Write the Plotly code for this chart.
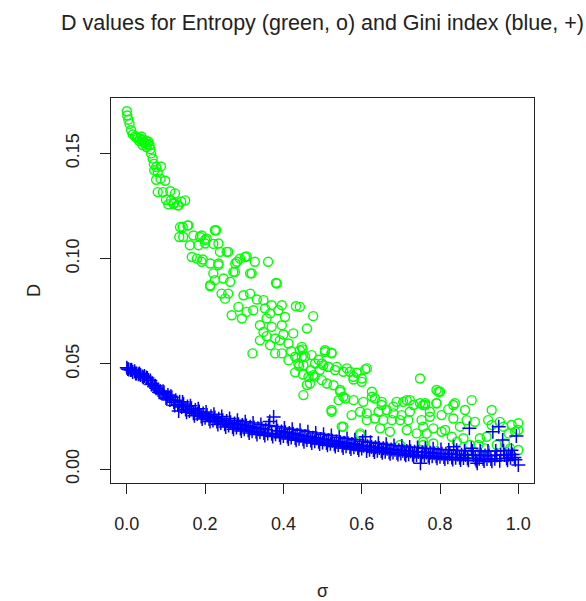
import plotly.graph_objects as go

# Entropy (green, o): sigma and D values
entropy_sigma = [
    0.000, 0.001, 0.004, 0.007, 0.011, 0.015, 0.021, 0.028, 0.034, 0.040, 0.045, 0.049, 0.053, 0.058, 0.040,
    0.060, 0.062, 0.066, 0.069, 0.075, 0.087, 0.070, 0.079, 0.075, 0.086, 0.098, 0.079, 0.092, 0.111, 0.123,
    0.100, 0.113, 0.121, 0.130, 0.139, 0.149, 0.106, 0.025, 0.031, 0.037, 0.043, 0.050, 0.055, 0.119, 0.132,
    0.136, 0.143, 0.155, 0.157, 0.144, 0.134, 0.170, 0.187, 0.204, 0.161, 0.183, 0.200, 0.225, 0.234, 0.255,
    0.166, 0.179, 0.191, 0.213, 0.234, 0.281, 0.302, 0.327, 0.361, 0.276, 0.315, 0.221, 0.247, 0.264, 0.213,
    0.383, 0.228, 0.191, 0.200, 0.221, 0.238, 0.259, 0.194, 0.234, 0.277, 0.289, 0.306, 0.272, 0.319, 0.225,
    0.213, 0.381, 0.242, 0.251, 0.259, 0.298, 0.315, 0.332, 0.349, 0.370, 0.396, 0.432, 0.285, 0.306, 0.268,
    0.294, 0.323, 0.353, 0.366, 0.387, 0.404, 0.476, 0.357, 0.340, 0.370, 0.396, 0.460, 0.349, 0.357, 0.379,
    0.425, 0.340, 0.366, 0.391, 0.413, 0.321, 0.379, 0.396, 0.413, 0.430, 0.447, 0.447, 0.472, 0.506, 0.523,
    0.481, 0.502, 0.515, 0.536, 0.562, 0.438, 0.442, 0.449, 0.451, 0.523, 0.549, 0.596, 0.442, 0.455, 0.451,
    0.464, 0.468, 0.476, 0.493, 0.450, 0.460, 0.470, 0.480, 0.490, 0.440, 0.430, 0.420, 0.400, 0.506, 0.523,
    0.498, 0.515, 0.532, 0.553, 0.570, 0.587, 0.609, 0.579, 0.600, 0.498, 0.511, 0.528, 0.545, 0.558, 0.541,
    0.579, 0.604, 0.626, 0.634, 0.651, 0.689, 0.715, 0.732, 0.749, 0.762, 0.749, 0.523, 0.574, 0.596, 0.613,
    0.643, 0.664, 0.681, 0.702, 0.723, 0.774, 0.613, 0.634, 0.655, 0.677, 0.698, 0.719, 0.753, 0.553, 0.647,
    0.672, 0.715, 0.740, 0.596, 0.698, 0.757, 0.791, 0.545, 0.553, 0.579, 0.613, 0.600, 0.626, 0.651, 0.681,
    0.706, 0.723, 0.757, 0.791, 0.834, 0.796, 0.800, 0.881, 0.762, 0.791, 0.838, 0.821, 0.864, 0.932, 0.774,
    0.804, 0.834, 0.868, 0.889, 0.923, 0.953, 0.757, 0.783, 0.813, 0.851, 0.932, 0.962, 0.983, 1.000, 0.766,
    0.804, 0.830, 0.860, 0.902, 0.919, 0.975, 0.992, 0.783, 0.843, 0.877, 0.898, 0.945, 0.966, 1.000, 0.915,
    0.979, 0.885, 1.000, 0.757,
]
entropy_D = [
    0.1700, 0.1680, 0.1660, 0.1640, 0.1610, 0.1590, 0.1580, 0.1570, 0.1570, 0.1565, 0.1550, 0.1560, 0.1546, 0.1540, 0.1540,
    0.1520, 0.1500, 0.1475, 0.1450, 0.1435, 0.1438, 0.1420, 0.1410, 0.1375, 0.1380, 0.1370, 0.1316, 0.1316, 0.1320, 0.1310,
    0.1280, 0.1277, 0.1264, 0.1253, 0.1270, 0.1277, 0.1258, 0.1575, 0.1560, 0.1580, 0.1555, 0.1530, 0.1555, 0.1260, 0.1253,
    0.1150, 0.1150, 0.1158, 0.1158, 0.1103, 0.1103, 0.1110, 0.1103, 0.1095, 0.1064, 0.1064, 0.1072, 0.1135, 0.1072, 0.1032,
    0.1008, 0.1000, 0.0985, 0.0977, 0.0977, 0.0985, 0.1008, 0.0985, 0.0985, 0.0937, 0.0930, 0.0930, 0.0906, 0.0890, 0.0874,
    0.0882, 0.1135, 0.1110, 0.1090, 0.1070, 0.1032, 0.1032, 0.0996, 0.0969, 0.0977, 0.1000, 0.1011, 0.0937, 0.0930, 0.0898,
    0.0869, 0.0885, 0.0834, 0.0810, 0.0834, 0.0826, 0.0834, 0.0806, 0.0803, 0.0779, 0.0779, 0.0774, 0.0771, 0.0747, 0.0731,
    0.0716, 0.0755, 0.0763, 0.0740, 0.0755, 0.0723, 0.0727, 0.0716, 0.0684, 0.0676, 0.0684, 0.0668, 0.0652, 0.0632, 0.0621,
    0.0645, 0.0612, 0.0589, 0.0612, 0.0597, 0.0550, 0.0550, 0.0550, 0.0518, 0.0534, 0.0581, 0.0534, 0.0542, 0.0565, 0.0553,
    0.0502, 0.0494, 0.0486, 0.0486, 0.0479, 0.0502, 0.0771, 0.0569, 0.0352, 0.0273, 0.0202, 0.0170, 0.0565, 0.0534, 0.0494,
    0.0439, 0.0407, 0.0447, 0.0471, 0.0450, 0.0400, 0.0470, 0.0440, 0.0520, 0.0490, 0.0460, 0.0560, 0.0640, 0.0557, 0.0550,
    0.0502, 0.0486, 0.0471, 0.0463, 0.0463, 0.0458, 0.0474, 0.0426, 0.0415, 0.0423, 0.0407, 0.0399, 0.0368, 0.0336, 0.0328,
    0.0328, 0.0320, 0.0368, 0.0336, 0.0320, 0.0320, 0.0328, 0.0305, 0.0313, 0.0305, 0.0431, 0.0281, 0.0257, 0.0273, 0.0265,
    0.0273, 0.0281, 0.0265, 0.0257, 0.0273, 0.0273, 0.0233, 0.0241, 0.0233, 0.0233, 0.0233, 0.0233, 0.0233, 0.0202, 0.0194,
    0.0178, 0.0186, 0.0170, 0.0162, 0.0115, 0.0115, 0.0376, 0.0376, 0.0344, 0.0439, 0.0479, 0.0431, 0.0344, 0.0305, 0.0297,
    0.0320, 0.0328, 0.0305, 0.0313, 0.0305, 0.0368, 0.0368, 0.0328, 0.0313, 0.0313, 0.0313, 0.0284, 0.0281, 0.0281, 0.0249,
    0.0257, 0.0241, 0.0233, 0.0225, 0.0233, 0.0225, 0.0202, 0.0194, 0.0186, 0.0202, 0.0210, 0.0202, 0.0210, 0.0218, 0.0170,
    0.0178, 0.0154, 0.0147, 0.0147, 0.0154, 0.0170, 0.0178, 0.0122, 0.0130, 0.0115, 0.0115, 0.0115, 0.0122, 0.0091, 0.0099,
    0.0099, 0.0083, 0.0186, 0.0130,
]

# Gini index (blue, +)
gini_sigma = [
    0.000, 0.005, 0.010, 0.015, 0.020, 0.025, 0.030, 0.035, 0.040, 0.045,
    0.050, 0.055, 0.060, 0.065, 0.070, 0.075, 0.080, 0.085, 0.090, 0.095,
    0.100, 0.105, 0.110, 0.115, 0.120, 0.125, 0.130, 0.135, 0.140, 0.145,
    0.150, 0.155, 0.160, 0.165, 0.170, 0.175, 0.180, 0.185, 0.190, 0.195,
    0.200, 0.205, 0.210, 0.215, 0.220, 0.225, 0.230, 0.235, 0.240, 0.245,
    0.250, 0.255, 0.260, 0.265, 0.270, 0.275, 0.280, 0.285, 0.290, 0.295,
    0.300, 0.305, 0.310, 0.315, 0.320, 0.325, 0.330, 0.335, 0.340, 0.345,
    0.350, 0.355, 0.360, 0.365, 0.370, 0.375, 0.380, 0.385, 0.390, 0.395,
    0.400, 0.405, 0.410, 0.415, 0.420, 0.425, 0.430, 0.435, 0.440, 0.445,
    0.450, 0.455, 0.460, 0.465, 0.470, 0.475, 0.480, 0.485, 0.490, 0.495,
    0.500, 0.505, 0.510, 0.515, 0.520, 0.525, 0.530, 0.535, 0.540, 0.545,
    0.550, 0.555, 0.560, 0.565, 0.570, 0.575, 0.580, 0.585, 0.590, 0.595,
    0.600, 0.605, 0.610, 0.615, 0.620, 0.625, 0.630, 0.635, 0.640, 0.645,
    0.650, 0.655, 0.660, 0.665, 0.670, 0.675, 0.680, 0.685, 0.690, 0.695,
    0.700, 0.705, 0.710, 0.715, 0.720, 0.725, 0.730, 0.735, 0.740, 0.745,
    0.750, 0.755, 0.760, 0.765, 0.770, 0.775, 0.780, 0.785, 0.790, 0.795,
    0.800, 0.805, 0.810, 0.815, 0.820, 0.825, 0.830, 0.835, 0.840, 0.845,
    0.850, 0.855, 0.860, 0.865, 0.870, 0.875, 0.880, 0.885, 0.890, 0.895,
    0.900, 0.905, 0.910, 0.915, 0.920, 0.925, 0.930, 0.935, 0.940, 0.945,
    0.950, 0.955, 0.960, 0.965, 0.970, 0.975, 0.980, 0.985, 0.990, 0.995,
    1.000,
    0.0025, 0.0125, 0.0225, 0.0325, 0.0425, 0.0525, 0.0625, 0.0725, 0.0825, 0.0925,
    0.1025, 0.1125, 0.1225, 0.1325, 0.1425, 0.1525, 0.1625, 0.1725, 0.1825, 0.1925,
    0.2025, 0.2125, 0.2225, 0.2325, 0.2425, 0.2525, 0.2625, 0.2725, 0.2825, 0.2925,
    0.3025, 0.3125, 0.3225, 0.3325, 0.3425, 0.3525, 0.3625, 0.3725, 0.3825, 0.3925,
    0.4025, 0.4125, 0.4225, 0.4325, 0.4425, 0.4525, 0.4625, 0.4725, 0.4825, 0.4925,
    0.5025, 0.5125, 0.5225, 0.5325, 0.5425, 0.5525, 0.5625, 0.5725, 0.5825, 0.5925,
    0.6025, 0.6125, 0.6225, 0.6325, 0.6425, 0.6525, 0.6625, 0.6725, 0.6825, 0.6925,
    0.7025, 0.7125, 0.7225, 0.7325, 0.7425, 0.7525, 0.7625, 0.7725, 0.7825, 0.7925,
    0.8025, 0.8125, 0.8225, 0.8325, 0.8425, 0.8525, 0.8625, 0.8725, 0.8825, 0.8925,
    0.9025, 0.9125, 0.9225, 0.9325, 0.9425, 0.9525, 0.9625, 0.9725, 0.9825, 0.9925,
]
gini_D = [
    0.0482, 0.0474, 0.0471, 0.0462, 0.0465, 0.0455, 0.0451, 0.0447, 0.0440, 0.0443,
    0.0436, 0.0424, 0.0421, 0.0408, 0.0392, 0.0385, 0.0376, 0.0372, 0.0358, 0.0366,
    0.0338, 0.0352, 0.0329, 0.0342, 0.0318, 0.0327, 0.0306, 0.0320, 0.0296, 0.0310,
    0.0284, 0.0298, 0.0276, 0.0290, 0.0266, 0.0281, 0.0262, 0.0274, 0.0250, 0.0264,
    0.0244, 0.0258, 0.0238, 0.0251, 0.0231, 0.0245, 0.0226, 0.0240, 0.0219, 0.0233,
    0.0214, 0.0229, 0.0208, 0.0223, 0.0201, 0.0217, 0.0198, 0.0214, 0.0193, 0.0210,
    0.0190, 0.0207, 0.0185, 0.0202, 0.0180, 0.0198, 0.0178, 0.0195, 0.0175, 0.0192,
    0.0172, 0.0189, 0.0170, 0.0226, 0.0168, 0.0248, 0.0166, 0.0183, 0.0162, 0.0179,
    0.0158, 0.0175, 0.0155, 0.0172, 0.0151, 0.0168, 0.0148, 0.0164, 0.0145, 0.0160,
    0.0142, 0.0157, 0.0139, 0.0154, 0.0136, 0.0150, 0.0133, 0.0147, 0.0130, 0.0144,
    0.0127, 0.0141, 0.0124, 0.0138, 0.0121, 0.0135, 0.0118, 0.0132, 0.0115, 0.0129,
    0.0112, 0.0126, 0.0109, 0.0123, 0.0106, 0.0120, 0.0104, 0.0117, 0.0101, 0.0114,
    0.0098, 0.0112, 0.0154, 0.0109, 0.0093, 0.0106, 0.0091, 0.0104, 0.0088, 0.0101,
    0.0086, 0.0099, 0.0083, 0.0097, 0.0081, 0.0094, 0.0079, 0.0092, 0.0077, 0.0090,
    0.0075, 0.0088, 0.0073, 0.0086, 0.0071, 0.0085, 0.0069, 0.0083, 0.0068, 0.0082,
    0.0028, 0.0080, 0.0065, 0.0079, 0.0064, 0.0078, 0.0062, 0.0076, 0.0061, 0.0075,
    0.0059, 0.0074, 0.0058, 0.0073, 0.0057, 0.0072, 0.0056, 0.0107, 0.0055, 0.0070,
    0.0054, 0.0069, 0.0053, 0.0068, 0.0052, 0.0194, 0.0099, 0.0067, 0.0051, 0.0028,
    0.0050, 0.0066, 0.0049, 0.0065, 0.0048, 0.0064, 0.0049, 0.0178, 0.0050, 0.0066,
    0.0202, 0.0067, 0.0139, 0.0068, 0.0052, 0.0069, 0.0054, 0.0070, 0.0056, 0.0158,
    0.0020,
    0.0476, 0.0472, 0.0455, 0.0454, 0.0436, 0.0433, 0.0402, 0.0396, 0.0365, 0.0370,
    0.0333, 0.0346, 0.0303, 0.0276, 0.0319, 0.0270, 0.0301, 0.0254, 0.0287, 0.0238,
    0.0272, 0.0226, 0.0261, 0.0212, 0.0250, 0.0200, 0.0241, 0.0190, 0.0232, 0.0182,
    0.0225, 0.0172, 0.0219, 0.0165, 0.0212, 0.0160, 0.0207, 0.0155, 0.0203, 0.0150,
    0.0196, 0.0143, 0.0190, 0.0138, 0.0185, 0.0131, 0.0178, 0.0125, 0.0172, 0.0120,
    0.0166, 0.0114, 0.0160, 0.0108, 0.0152, 0.0101, 0.0146, 0.0096, 0.0140, 0.0091,
    0.0133, 0.0086, 0.0128, 0.0082, 0.0123, 0.0078, 0.0118, 0.0074, 0.0113, 0.0070,
    0.0110, 0.0066, 0.0106, 0.0062, 0.0103, 0.0058, 0.0100, 0.0055, 0.0097, 0.0052,
    0.0094, 0.0049, 0.0092, 0.0046, 0.0090, 0.0044, 0.0088, 0.0042, 0.0087, 0.0040,
    0.0086, 0.0039, 0.0086, 0.0038, 0.0087, 0.0040, 0.0088, 0.0042, 0.0090, 0.0045,
]

x_ticks = [0.0, 0.2, 0.4, 0.6, 0.8, 1.0]
x_tick_labels = ["0.0", "0.2", "0.4", "0.6", "0.8", "1.0"]
y_ticks = [0.00, 0.05, 0.10, 0.15]
y_tick_labels = ["0.00", "0.05", "0.10", "0.15"]

FONT = "Liberation Sans, Arial, Helvetica, sans-serif"

fig = go.Figure()
fig.add_trace(go.Scatter(
    x=entropy_sigma, y=entropy_D, mode="markers", name="Entropy",
    marker=dict(symbol="circle-open", size=9, color="#00FF00", line=dict(width=1.4, color="#00FF00")),
))
fig.add_trace(go.Scatter(
    x=gini_sigma, y=gini_D, mode="markers", name="Gini index",
    marker=dict(symbol="cross-thin-open", size=10, color="#0000FF", line=dict(width=1.5, color="#0000FF")),
))

axis_common = dict(
    showline=True, mirror=True, linecolor="#222222", linewidth=1.3,
    ticks="outside", ticklen=10, tickwidth=1.3, tickcolor="#222222",
    showgrid=False, zeroline=False, automargin=False,
    tickfont=dict(family=FONT, size=18, color="#222222"),
)

fig.update_layout(
    width=586, height=601,
    margin=dict(l=111, r=52, t=98, b=118),
    paper_bgcolor="white", plot_bgcolor="white",
    showlegend=False,
    font=dict(family=FONT, color="#222222"),
    title=dict(
        text="D values for Entropy (green, o) and Gini index (blue, +)",
        font=dict(family=FONT, size=21.5, color="#222222"),
        x=(111 + 534) / 2 / 586, xanchor="center",
        y=1 - 22 / 601, yanchor="middle", yref="container",
    ),
    xaxis=dict(
        **axis_common,
        range=[-0.0404, 1.0401],
        tickvals=x_ticks, ticktext=x_tick_labels,
        ticklabelstandoff=14,
        title=dict(text="σ", font=dict(family=FONT, size=18, color="#222222"), standoff=52),
    ),
    yaxis=dict(
        **axis_common,
        range=[-0.00655, 0.1763],
        tickvals=y_ticks, ticktext=y_tick_labels,
        tickangle=-90,
        ticklabelstandoff=14,
        title=dict(text="D", font=dict(family=FONT, size=18, color="#222222"), standoff=17),
    ),
)

fig.write_html("out.html")
